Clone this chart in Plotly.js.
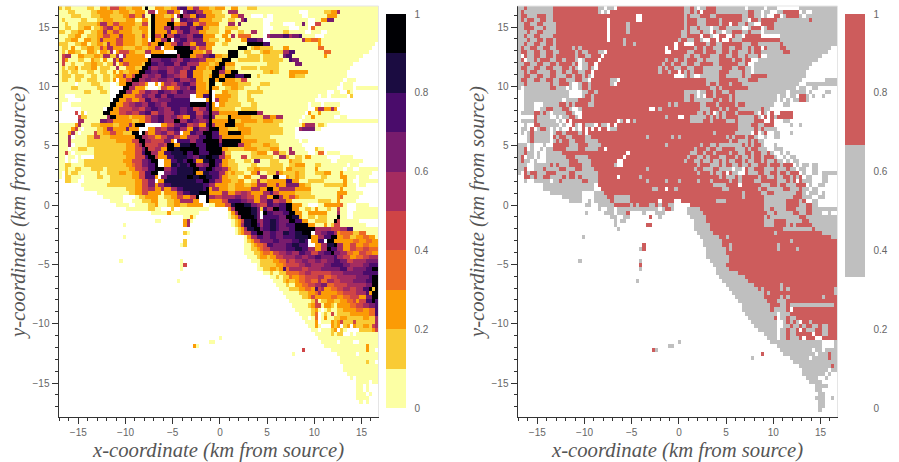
<!DOCTYPE html>
<html><head><meta charset="utf-8">
<script src="https://cdn.plot.ly/plotly-3.0.1.min.js"></script>
<style>html,body{margin:0;padding:0;background:#fff}#c{width:899px;height:462px}</style>
</head><body><div id="c"></div>
<script>
// Rows read top to bottom: each token is a level letter and the column where it starts.
const erosionRows = [
"b0a1b2a4b9a11c13b15e16c19b21c23a26j27a28c30b33c35g37h38c40f42c44b47c49a52c54a56b59a62",
"a0b3a5b10c12b17c19b22c24a27f28z30c31f34c36z38g39h40f43c45b48a51f53a56z75a78b83c85f87a88",
"a0b4a7b10c13b16c20e22c24f26a27j29c30b33c35z36f37j38f39c41h43g44c46b49a52c54f56a58z60a64z65a67z76a78c84a87",
"a0b1a2b7a9b12c14b17c21a24c26a28j29c30f35a36h38g40f42c44b48a51b53a55f57h58a59z64a67z78a80c82g84a86",
"a0b2a3b6c12f13c15e17c19b24e26a28j29c30j34c36e38h40c42e44c46a50f53a55g56a57z64a66z70a74g76a77z78e80a82",
"a0b2a4b6c8a10b11c13e14f15c17e19c20b23c25a28j29c30f33j35f36h38f41h43c45b47a50b52a56z64a67z72a75z78d79a80",
"b0a2b4c6a8b10c12f14c15e17c19b23c26a28j29c30g34c35f37h39f41c44b46a50c52a54b56a58f60a62z64a66b70a72z77a79z82a84",
"a0b3c5a7b9c12e14c16f19c20b24e26c27a28j29e30c32j33e34h36g38f40h42c45a49c51a53f54a55d56a60z64f65g66h70f72g73h75a76z80a83",
"a0b2c4a6c8b10c12f13c14e18c20b24c26z28j29c30f32j34z35g36h38f40g42c45b47a50c52a54c57h59g62z64a66f76c77d79c81a82",
"b0a3b5c7a9b10c12b14f15c16e18c20b24c26e28c29j31c33e35h37f39c41g43c46a49b51a53j59h64a66c81a82z99",
"a0b1a3c4a5b7c9b11e13c14f15c17b20c24b26c28f30z32c33j36f41c43e44c46a48a51j56a59b60c61b63a67c70a72d81a83z98",
"a0b1a2c3b5a7c9b11a12c13b15f16z17c18e19c22b24f27c29c31z33j37c42b45e46a48a50j53a56b58a60b63c64b66a70f70h72a74d83a85z97",
"a0e1f2a4c6b8c11b13f14b16f18z19f20c21c24z27j29f37j38c41e43g45h47c49b51j53a56b59a63b64a69g70h71a73c83a84z95",
"a0e1c2a3b6a8c10b11a13c14a15f17c18g19c20c23c26j28g29h32g35f37h39g41f44c46b49j51a54b56a63b64a70h72g73a75z94",
"a0e1a2b4a5b8c10b12a14b15f17a18c19e20c22c24b26j27h29g31h33f36h38f40c44b47c49j50c52a55a63b65a69a73g74a76z92",
"a0b1a2b3c5a6b7c10a12b13a16f18a19c21b24j26h28f29g31f34g36f39h41c43b46c47j49h51b52a55b57a62b63a69a74z91",
"a0b1a3b4a6b9a11b13a15c17a18c19b20c22c24j25h27g29h31f34g36e38h40c42c44b45j48f50c52j54a56a62b64c66b67a69c72a78z90",
"a0b1a4b5a8b10a12b14a16b17c18f20c21e23j24f26g28f30h32g34f36e38h40c42b45c47j48c50j52h55j58a60b62a63c72b74a77z90",
"a0b1a3b5a7b9a12b14a16c17z18c19e21j23f25g27f29g31f34h36f38g41c43b45j47c49j50c52b55e57a59a62z89a90z93",
"a0z5a6b10a13z16a18c19j21f23e25c27z28c30z31c32f33e35g37h39f41c43b46j47a49c51c53b56a60b63a66z88a89z92",
"a0b4a6b12a14z16c20j20f22c24c26a27z28a31e32c34e36g38f40h41c43b46j47c48a50b52c54b56a58b62a63z87a89z92a93",
"a0b8a10b13a15z16a19j19f21c23e25g27f29h31g33f35h37g39g41c43c45j47z48a49c51b53a56b59a64z84a86z88b90a91z92",
"a0z2a5a10z16j18c20c22e24g26f28h30f32h34g36z41c43h45j47z48c49c51b54a56b59a60z81a82z84a85z90b91z92",
"a0z3a7a13z16j17c19e21c23e25h27f29g31g33h35z41c46j47z48f49c50b53a56b59a61z80",
"a0z1a4a13j16c18e20f22g24f26h28g30f32h34j41h46j47c48z49c50b52a57b60a62z78a79z82a83z88",
"z0a0z1a7a12z14j15c17e19e21f23e25g27h29g31f33h35g38h40e42f44h46j47c48b50a55b57a62z78c80f81c83f85c86z87",
"z0e5z6b7z8a9c14j14c16e19f21e23g25h27e29g31f33h36g38h40e43g45j47f48c50j56f62a64z77c78a79c81a82z88",
"z0e6b7a9f15j16c18c20b22c23c25e27g29h31f33g35e37c39h41f43h45j47g48b49j53c54c58b60f64c66f68a70z76a77c79a80z86a88z90",
"z0f6a8g13f15c17c21b23c25e27g29h31f33j36f38h40g42f44g46j47c48c50j53b55c57b62c64b67a70z75a76",
"a0c5f6a7b10c13c15b17c19f22c23j24z27z31c32e34g36h38e40f42c44h46j47f48c49j52c55b58b62a69z76c76f77a80b81a83z84",
"a0c4e5a6z7a8b12c14f15c17c19g21c22z25z27c28f30e32g34h36f38c40h42f44g46j47c50b53c56b60a70z74f75g76g78a80z82",
"a0c3f4a5z6a7e11b12c14e16c18b20j23z25j26e27c28f30g32e34g36z38c39h41g43j45j47h48c50j53c57b60a70z74",
"a0f3z4a5b9e11b13c16c19c22j24f26e28c30e32g34e36c38f40f42h44j46h48f50c51c53b58a66z74",
"a0f3a4b9b11b14c18c20e23j25f27e29e31g33c35z36h37h39f41h43j45j48f50c51j51c57b62a68z75a76z78",
"a0f3z4a5b9b11b16b19c21c23e24f25j26e27e29f31e33j34c36i38j41h43j46j49h50c51j51c56f56c58b60c64b66a69z76",
"a0z3a4b6a9b11b20c21e24g26j27e28f30c32j34i36j38j41h44j46j49c51b53b55c58b62c66a69f72a73z77b80a81z83",
"a0e2a3z4a5a9b11c20e24h26j27f29c31h33i35j39h40j42h44j47j50f51b52a54b60c62a65e67b69a71f72a74z78a80d81z83a84z88",
"a0z2a3z5a6z7b11c21e24h27j28e30c31h34i36i38h40g42i44j46i48f50c52a54e57a59b60a67f69b71a72b74a76c77a79z84a88z92",
"a0z2a3z4a6b8b11c20e23g26h28j29z31c33h35i37h39j40h42c43i45j47h49c51c52b53a55b58a60g61a63b66a69c72b73a76z85a87z95",
"a0b2a4b8b11c21d23e24g26h28j30z31c33i35h37i38h40j41f43g45j47h49f50c51b53a56b60a62b66a70b72c74a77b80a82z90a91z94",
"a0b2a3b5a7b10a14b15b18c22e24f26h28c30j30f33h35i37j42h44j46h48g49f51c53b54a56b59c61b63a70c71b73a77c80a81z89a90z92a94",
"a0z1b2a3b4a6b12a13b15c19b21c23e25h27j29z31g33h35i37j42c43i45h47f50c52b53c54b55a58c60f62a63b65f68c69b70c74b75a77b80b81c83a85c88a89z98",
"a0z1b2a4z7a8b12a14b16c23e25h27c30z31g32i34i38j40i42j44i46h48f50c51b53a56c58a60a62f63a65j67z69c71b72c74b75a77b82a84c88a90z93a94z97",
"z0b2a4z6a8a15b16b22c24e26g28z30c31i33i35i37i39i41h43j45h47f49c51b54c56a58b60f62b63c65c69h71c73a75b78a83c89a90z92a94",
"z0z5a7a13b15b20b23c24e26g28c30f31h33i35i37i39i41i43h45f47c49c51b53c55b58c60f62c65c66f68c69g71g73c75b77a79b83c89a90z93a94z96",
"z0z8a8a13b21c24e26f28c30f32c33f35h37i39i41i43h45j46c47f48c50b53c55c58f60c63j65c67f69f71c74c77a79c88a89z93",
"z0z12a12a16b22c24e26c28c30a32c33c35f37h39i41i43j44j46c47c49f51c53e55f57e59c60c62f64h66e67c69c71b74a79c87c89a90z95",
"z0z14a14z20a24b25c27c29a31b33c35e37c39e41j43z44j46f47e49f51f53g55f57e59c61f63c65j67f69c70e72c74b75a80c87d88a89z94",
"z0z16a16z20a23b26c29c30a31b34c36f38f40c42z44j46c47c49e51h53h55g57f59c61f63h65e67f69c71a73a79b81a85c87a88z93",
"z0z18a18z22a24a26b28c30a31b34c36b38c40c42c44z45a47c49e52i54j55i58g60f62e63h65g67h69j71c73a76z78a81c83c87d88a89z90a93z97",
"z0z20a21a25b28a30z32b35z36a38z47z50c53f54j55j57i60g62b63h64f65j67h69j71c73a75b77a79c80a81b84a85e87a88z90a93",
"z0z28a29a31c34a35a40z44z51a53c54f55j56j58i60g62z63j64h65g67h70j72c74a76c78c80a84f87a88z90a92",
"z0a39c41a42z43a53b54c55f56j57j59i61g62z63h64h66h68g69j71i73c75a76b78a80b81a84j87a88z90a92",
"z0a30a31z32a39c39f40a41z42a54b55c56e57i58j60g62f63h64i66h68g69j72h74c76a78b80a84j86e87a88z94",
"z0a20z21z39c39f40z41a54b55c56f57i58j60h62f63h64i66h68g69h71j74j76c78a80c83a84b85e86a88z96",
"z0a55b56c57f58i59j61g63h64i66h68g69h72j74j76j78f80f82f84e85e86f88h90a92",
"z0b39a40z41a55b56c57e58h60j62g64h66g68i70h72i74j76j78z79f80g82h84h85f86c87d88b92d94a96",
"z0a20z21z39a58b59c59f60h62g64h66g68h70h72i74i77j78c79f81h83j85c87d89b91c93d95c97a99",
"z0b39z40a58b59c60e61g63g65h67g69g71h73i75h77z78c79h81z83j84c86c88c90d92c94d96c98",
"z0a38b39z40a58b60c61d62e64h65g67g69h71i73h75h77z78c80f82i84j86f87c89e91c93d95c97",
"z0a58b60c62d63e64g66g68h71i74h76f78c80f82j84h85f87c89e91d93e95d97",
"z0a58b61c63d64c66e67f69g71f73h75g77e79g81h83j85g86f88d90c92e94d96c98",
"z0a59b62c63b65c66e68f70f72g74f76g78h80g82g84h86f87e89c91d93e95f97",
"z0a19z20a38z39a60a61b63b65c67d69f71e72f74g76f78g80f82g84h86g88e90f92f94g96",
"z0a38e39z40a62b63b65c68d70e71e73f75g77f79f81g83h85h87g89f91f93g95h97",
"z0a38z39a62b64c66b68c69h70d71f72f74e76f78f80g82g84g86h88f90g92g94h96j98",
"z0a64b66a67b69d71d73e75f77e79e81e83f85f87g89g91g93h95h97",
"z0a66b68a69b70d72c73d75e77e79f81d83e85f87f89f91g93g95h97j98",
"z0a37z38a67b70c71b72c74d75e77d79f81d82f84e86f88f90g92g94h96j98",
"z0a68b71a72c74c75d76e78f80g82d84e86e88f90f92f94g96j98",
"z0a69b72b74c75d77c79h80e81f82c83d85e87f89e91f93h95j97b98j99",
"z0a70a74b75b77c78d80f81c82c84c85d87e89e91f93f94h96c97j98",
"z0a71a75b76c78e79c80c83d85c87d89e91e93c94g96j98",
"z0a72a76a78b79e80a81b82c84b86c88d90e92c93e94h96j98h99",
"z0a73a77b78c79e80a82c83b85a86c87c89d91e93f95g97h99",
"z0a74a78b79c80a81z82a83b84a85b87c89c91d93c95d97h99",
"z0a75b79d80z81a82b83a84e85a86b87b89c91c93c95d97h99",
"z0a76z78a79d80z81a82c83a84b86c88b90b92b93c95b97f99",
"z0a77a79c80z81a82a84c85b86c87e88b89b91e92b93b95b96f99",
"z0a78c80a81z82c85b86c87z88b89c90z91c92b93c95b97e98f99",
"z0a79a80z81a82b85c86z87b88a89z90z93b94b96c98e99",
"z0a80a82b85a86b87b88z89a91z92a93a95",
"z0a50z51a81a99",
"z0a47a48z49a82z87a88z92z93a94",
"z0c42a43z44a83a90c96a97a99",
"z0e76z77a85c96a97z99",
"z0a73z74a87a89z93a94a98",
"z0a88a91",
"z0a88a95b96a97z99",
"z0a89a99",
"z0a89a99",
"z0a90a97a99",
"z0a91z92a93",
"z0a93a96z97a98",
"z0a93z95a96z97",
"z0a93a94z95a96z97",
"z0a93a95z96a97z98",
"z0a93a94a96z97",
"z0a94z95a96z97",
"z0"
];
const classRows = [
"g0r2g3r11g25z27g28z30r31g52r54g55z56g57r59g62z71g72z77g78z81g88",
"g0r1g2r11g25z26g27z28r29g52r54g55r56z57r58g62z72r72g74z76g77z79g81r83z88g89z90g92",
"g0r1g3r6g9r11z37r39g52r53g54r57g60r62g70r72g74z76g77z78r80z82g83r84g88z89g90",
"g0r1g2r3g5r7g9r11z28r29z37r39g52r53g56r59g63r64g70z72r73g75z76r76g81r91g92",
"g0r2g4r6g8g11r12z28r29g34r35g52r53g56r59g63r64z66r67g69r71g72z74r76g80",
"g0r2g5r8g9g11r12z28r29g34r35g52r53g54r56g57z60g61r63g65z70g72r73z76g77z78r78g80",
"g0r3g4r6g8g10r12z28r29g34r35g51r53g54r57g58z60r61g62z64g65r67g70r72g73r76z76g77",
"g0r2g3r5g7g9r11z28r29g51r53r56z57r58g60z61r63z65r67g68z70r71z76g82",
"g0r3g4r6g8r9g11r12z28r29g33r34g50r51g53r55g57z58r60z62r63z64r66g67z70r70r76g82",
"g0r2g3r5g7r9g11r12g33r34g36r37z49r50z52r55g59r60g62r64g70r73g75g80r82g83",
"g0z1r1g2r4g6r8g10r12g17r18g19r20r31z46r47z49r50g55r56g58r59g61r64g66r68g70r72g73r74z76r77g78r82g84z98",
"g0r1g3r5g7r9g11r13g18r19g20r22g25z27r28z46r48g53r55g58r59g62r64g66r67g69r72g73r74g76r83g85z97",
"g0z1r2g3r5g7r9g11r12g18r19g21r23z26r27g52r54g55r57g60r63g65r67g69r71g72r75z76g78z95",
"g0r1z2g3r5g6r7g10r12g14r15g18z19g20r21z25r26g46r47g49r50g52r53g56r58g59r63g67r68g70r71z73g75z94",
"g0r2g4r6g8r10g12r13g17r18z19g20r22z24r25g45r46g48r49g51r53g55r57g61r63g69r71z72g74z92",
"g0r1g3r5g7r9g11r14g16r17g18z19g20r22g23z24r25g44r45g46r47g49r51g53r55g58r64g67r69g71z73g74z91",
"g0r2g3r4g6g9r10g12r14g15r17g19r21z23r24g44r45g47r48z50r51g52r53g54r55g58r63g66r70g71z73g74z90",
"g0r2g4r6g8r10g12r15g17r18g20r21g22z23r24r45z49g52r53g54z55g57r63g65r70g71r73g78z90",
"g0r1g3r5g7r9g11r13g15r18g20z22r23g29z31r32g59r63g69r72g75z89g96",
"g0r2g3r10g11r13g16z17g19r20g22r23g29z30r31g59r60g62r63g66r67g70z88g90",
"g0z1g2r10g12g13z15g16z17g19r20g22r23g60r62g63r64g72z87g88z90g92z94",
"z0g2g10g13z16g20r22g24r25g52g55z56g57r59g61r62g64r66g68z84g85z90g91z92g96z98",
"z0g2g10g14z16z19g20r21g23r24g52r54g55z56g57z58r59g61r62g66r67g68z81g82z84g85z87g88r88g90z91g92z93g95z96",
"z0g2g9z14g15g18r19g23r24g52r54g55g60r61g63r64g66r67g68z81g82z83g84z85g86r88g90z91",
"z0g2g4z5g8g12r13g15r16g17r18g22r24g47r48g49r50g57r59g62r63g68r69g71z80g83z85",
"z0g2z5g7z9r9g11g12r14g16z17g19r20z41r43g44r45g57r60g63r64g65r66g69g74r76g77z79",
"z0g1z5r5g7r8g9z10g11g13r15g17z18r20g56r58g59r60z61g62r63g64r65g68r69g74z75r76g77z78r79z80r82z86",
"z0r5g6g9z10g12z13g14r16g18z19r20g46r47z50r52g54r59g60r61g62r63g64r65g69g74r74g75z76r77z78r79g80r81z86",
"z0g1r5g6g11z12g13z14r15z16r17z31g32r33z34r35g36r37g54r58g60r61g65r68g69g72r74z77r79z80g83z85",
"z0g2z3r5g7g12z13g14z15r17g18z19r20g21z24r25g26z28r29z30r31r68g69g72r73g75z77r77z80g85z86g88z89",
"z0g1z3r4z5g6r7g9z10g11z12g13z14r16z17g18z19r20z21r22z23r24z25r26z28g29r31r66r68g69g71r74g75r76g77z79g79z81",
"z0g1z2g3r4g5g8z10g11z12r12g14r15g19r20z21r22g61r62r67g68g71z73r74z75g76r77z78g80z82g85z86",
"z0g3r4g5g8z10r11g12r13g15r17g21r23g40r41g48r49g50r51g65r66g67r68g71r72g74z75g77z78g80z82",
"z0g3r4g5g8z10g11z12r12g13r14g16r18g21r25g66r67g69g70r72g73r74g75z77z80",
"g0z3g4z5g8z9g11r11r14g16r19g22r26g46r47g57r58g60r62g63r70g71r72g73r74g76z77z79g80z81z83",
"g0r2z3g4z5g7z8g9r11r13g15g17r19g21r25z27r28g55r56g59r60g62r64g68r71g72r73g75z78g80z83",
"g0r2g3z5g6z7g9r14r20z34r35g54r56g58r59g61r62g66r67g69r71g73r74g76r78g79z80g82z83g84z85",
"g0r1z2g3z5g6z7g9r15g18r22z33r34g53r54g56r58g59r60g63r65g68r69g70r72g73r74g76r77g80z81g83z84g85z87",
"g0r1g2z4g5z6g9r16g19r23z31r33g52r53g55r57g58r60g61r63g64r65g66r68g70r71g72r74g76r77g78r80g81z83g84z85g86z88",
"g0g2z3g5g9r10g11r12g13r16g20r23g30z31r33g56r57g60r63g64r65g67r69g70r72g73r75g78r79g82r83z86g87z88g89z91g92z94",
"g0r2z3z4g5g7r8g9g12r13g15r18g20r24g40r41g55r56g58r61g63z67g68z70r71g72r74g77r80g81r84g85z87g88z90g92z94",
"g0z1r2g3r4g6g8r9g12g15r16g18g20r25g56r57g60r61g62r64z65r66g67z69r71g72r75g77r79g81r82g84r85z88g89z90g92z94g95",
"z0r2g4r5g6r8g10r14g15r16g18r19g20r25z31r32g38r39r41g63r64g65r68g69r70g75r76g78r80g81r83g85r86g87r88z89g90z92g95z97",
"z0g2z3g5g7g9z10g11r13g14g18r20g22r25g40r41g46r47g50r51g56r57g60r61g66r67g69r70g74r76g81r84g85r86z87r88g89z92g95z97",
"z0g8g24z24r25g61r65z69r70g76r79g81r82g84r87z90g91z92g94z96",
"z0g8g24z24r26g42r44z46r47g49r50g64r66g75r76g78r83g85r88g89z91g92z94",
"z0g10z20g24r27g70r71g76r78g80r87g89z90g91z94g95z96",
"z0g14z20g24r28g30r35g70r71g77r86g89z92g94z96",
"z0g16z20g22z23g24r29g30r35z44r45z49r51g62r65g77r84g88r89z90g92z94",
"z0g21z23g25r30g35r36g37r38g41r43g44r45g47z49r54g77r84g88r90g92z94",
"z0g25z26g28z30g31g35z44g45r46g48z49z51g53r57g77r79g80r84g87r90g92",
"z0g21z22g27z30g31r34z35g39z40g43z46z52g53r58g78r80g81r86g88r90g92z95g97z98",
"z0g29z31g33z35r41z42g44z45z53g54r59g77r78g79g85r88g90",
"z0g30z31g32z34z45z54g55r59g77r80g84r89g91",
"z0g30z31r40z42z53g55r60g77r80g84r85g86r87g92",
"z0g31z32z53g55r60r82g83r92g93",
"z0z54g56r61g80r81r93g95",
"z0g20z21z55g57r63g65r66r97g98",
"z0z57g58r64g85r86",
"z0r39z40z57g58r64g66r67g81r82",
"z0g38r39z40z58g59r65g66r67g81r82g87r88",
"z0z58g59r65",
"z0z58g59r66",
"z0g19z20g38z39z59g60r66",
"z0r38z39z60g61r65",
"z0g38z39z61g62r66",
"z0z62g62r69",
"z0z63g63r71",
"z0g37z38z64g64r72",
"z0z65g65r74g82r83",
"z0z66g66r75g76r77g82r83g84r85g99",
"z0z67g67r77g78r79g99",
"z0z68g68r77g82r83g84r85g95r96",
"z0z69g69r78g81r84",
"z0z70g70r79g82r84g85r99",
"z0z70g70r79g80r84z85r86",
"z0z71g71z81g82r85",
"z0z72g72r80z81g82r84g85r87",
"z0z73g73z81g83r84g85r86g87z88r89g91r92",
"z0z74g74z81g83r85g86r88g89r90g92r94g95r97",
"z0z75g75z81g82r84g85r87z88r89g90r93g95r97",
"z0z77g77z81g82r84g85r87z92r93g95r97",
"z0z78g78z81g82r84g85r88z89r90r92z93r95",
"z0g50z51g79z95g99",
"z0g47z49g81z95g99",
"z0r42g43z44g82z92g93z95g96",
"z0r76z77g83z93g94r97g98",
"z0g73z74g85z91g92r97g98",
"z0g86g99",
"z0g88r98g99",
"z0g89z97g98",
"z0g89z96g97z98",
"z0g90z94g96z97",
"z0g91z95",
"z0g93z97",
"z0g93g94z95",
"z0g94z96",
"z0g93z96g98z99",
"z0g94z96",
"z0g94z96",
"z0g94z95",
"z0"
];
const erosionLevels = {a:.05,b:.15,c:.25,d:.35,e:.45,f:.55,g:.65,h:.75,i:.85,j:.95,z:null};
const classLevels = {g:.5,r:1,z:null};
const infernoSteps = ["#fcffa4","#f9cb35","#fb9b06","#ed6925","#cf4446","#a52c60","#781c6d","#4a0c6b","#1b0c41","#000004"];
const classSteps = ["#ffffff","#bfbfbf","#cd5c5c"];
const xTicks = [-15,-10,-5,0,5,10,15];
const yTicks = [-15,-10,-5,0,5,10,15];
const cbTicks = [0,0.2,0.4,0.6,0.8,1];
const xTitle = "x-coordinate (km from source)";
const yTitle = "y-coordinate (km from source)";

function decode(rows, levels){
  return rows.map(s=>{
    const a = new Array(100).fill(null);
    const t = [...s.matchAll(/([a-z])(\d+)/g)].map((m,i)=>[m[1],+m[2],i]).sort((p,q)=>p[1]-q[1]||p[2]-q[2]);
    t.forEach((k,i)=>{
      const e = i+1<t.length ? t[i+1][1] : 100;
      for(let c=k[1];c<e&&c<100;c++) a[c]=levels[k[0]];
    });
    return a;
  });
}
function stepped(c){
  const n=c.length, o=[];
  c.forEach((k,i)=>{o.push([i/n,k]);o.push([(i+1)/n,k]);});
  return o;
}
const W=899,H=462;
const tf={size:10,color:'#666',family:'Liberation Sans'};
const cb = (px)=>({thicknessmode:'pixels',thickness:20,lenmode:'pixels',len:394,x:px/W,xanchor:'left',xpad:0,
  y:(H-408)/H,yanchor:'bottom',ypad:0,outlinewidth:0,tickvals:cbTicks,ticktext:cbTicks.map(String),ticks:'outside',ticklen:7,
  tickcolor:'#fff',tickfont:tf,tickwidth:1});
const common={x0:-16.93,dx:0.339,y0:16.6,dy:-0.339,zmin:0,zmax:1,hoverongaps:false,type:'heatmap'};
const traces=[
 {...common,z:decode(erosionRows,erosionLevels),colorscale:stepped(infernoSteps),colorbar:cb(386),xaxis:'x',yaxis:'y'},
 {...common,z:decode(classRows,classLevels),colorscale:stepped(classSteps),colorbar:cb(845),xaxis:'x2',yaxis:'y2'}
];
const ttl=(t,s)=>({text:t,font:{family:'Liberation Serif',size:20.7,color:'#555',style:'italic'},standoff:s});
const minor={dtick:1,ticks:'outside',ticklen:3,tickcolor:'#333',showgrid:false};
const xa=(l,t)=>({domain:[l/W,(l+320)/W],range:[-17.1,16.8],tickvals:xTicks,ticks:'outside',ticklen:6,tickcolor:'#333',showgrid:false,zeroline:false,
  showline:true,linecolor:'#333',linewidth:1,tickfont:tf,title:ttl(t,6),minor,automargin:false});
const ya=(t)=>({domain:[(H-417)/H,(H-6)/H],range:[-17.86,16.77],tickvals:yTicks,ticks:'outside',ticklen:6,tickcolor:'#333',showgrid:false,zeroline:false,
  showline:true,linecolor:'#333',linewidth:1,tickfont:tf,title:ttl(t,1),minor,automargin:false});
const frame=(xr,yr)=>[
 {type:'line',xref:xr+' domain',yref:yr+' domain',x0:0,x1:1,y0:1,y1:1,line:{color:'#e5e5e5',width:1},layer:'above'},
 {type:'line',xref:xr+' domain',yref:yr+' domain',x0:1,x1:1,y0:0,y1:1,line:{color:'#e5e5e5',width:1},layer:'above'}];
// small white tick marks inside each colour bar
const barTicks=(right)=>cbTicks.slice(1,5).map(v=>({type:'line',xref:'paper',yref:'paper',x0:(right-3)/W,x1:right/W,
  y0:(54+v*394)/H,y1:(54+v*394)/H,line:{color:'#fff',width:1},layer:'above'}));
const layout={width:W,height:H,margin:{l:0,r:0,t:0,b:0},paper_bgcolor:'#fff',plot_bgcolor:'#fff',showlegend:false,
  xaxis:{...xa(58.5,xTitle),anchor:'y'},yaxis:{...ya(yTitle),anchor:'x'},
  xaxis2:{...xa(517.5,xTitle),anchor:'y2'},yaxis2:{...ya(yTitle),anchor:'x2'},
  shapes:[...frame('x','y'),...frame('x2','y2'),...barTicks(406),...barTicks(865)]};
Plotly.newPlot('c',traces,layout,{displayModeBar:false,staticPlot:true});
</script></body></html>
